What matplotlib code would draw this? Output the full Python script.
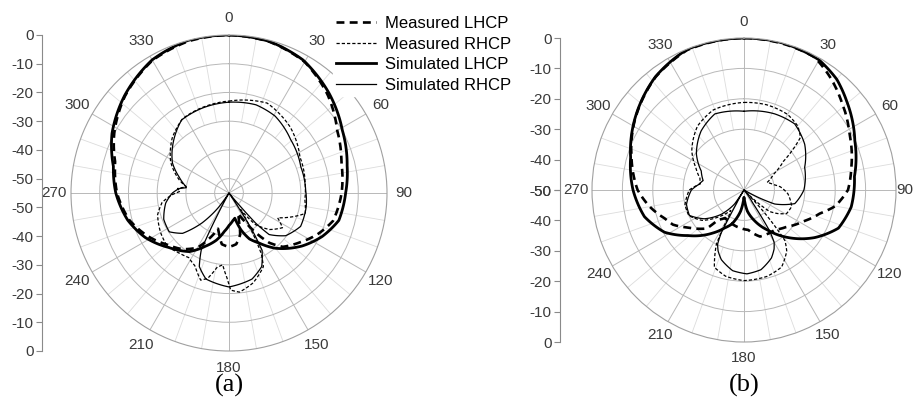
import numpy as np
import matplotlib.pyplot as plt

plt.rcParams['font.family'] = ['Liberation Sans', 'DejaVu Sans']

# ---- panel (a): angle (deg), gain (dB) ----
a_meas_lhcp_ang = [0, 15, 30, 45, 60, 75, 90, 105, 115, 125, 135, 141, 150, 156, 160, 165, 172, 180,
                   188, 193, 197, 203, 210, 220, 230, 242, 255, 270, 285, 298, 313, 330, 345, 360]
a_meas_lhcp_db = [0, -0.5, -2.3, -6.5, -11.5, -14.5, -15.8, -17.5, -21, -25, -28.5, -32.7, -42.8, -47.3,
                  -45, -40, -37, -36.2, -37, -40, -42, -38, -33, -29.5, -27, -23, -19, -16, -14, -9.8,
                  -5.5, -1.7, -0.3, 0]

a_meas_rhcp_ang = [0, 23, 43, 63, 83, 95, 105, 110, 117, 123, 132, 140, 145, 149, 152, 155, 165, 174,
                   179, 181, 185, 189, 194, 198, 205, 212, 220, 229, 240, 253, 262, 268, 272, 275, 278,
                   285, 298, 314, 328, 343, 360]
a_meas_rhcp_db = [-23, -21, -23.7, -27.3, -28.3, -28.5, -27.5, -31, -36, -32.8, -36, -40.6, -48, -40,
                  -31, -26.7, -22.6, -20.3, -21.2, -25, -29.9, -28.9, -24.4, -23.1, -27, -28.5, -27.8,
                  -26.6, -27.5, -29, -31.5, -35, -38, -37, -40, -37, -32, -27.5, -24.5, -23.8, -23]

a_sim_lhcp_ang = [0, 15, 29, 45, 61, 77, 90, 104, 115, 126, 140, 149, 156, 162, 167, 172, 180, 187,
                  195, 204, 214, 228, 242, 255, 270, 283, 297, 313, 330, 345, 360]
a_sim_lhcp_db = [0, -0.4, -2.0, -5.8, -9.9, -12.8, -14.4, -15.6, -19.2, -23.6, -29.9, -34.7, -37.5,
                 -41.5, -46, -45.3, -43.7, -41.5, -38, -34.7, -30.4, -26.7, -22, -18.5, -15.6, -13.7,
                 -9.3, -5.3, -1.5, 0, 0]

a_sim_rhcp_ang = [0, 17, 31, 49, 70, 88, 100, 115, 127, 136, 138.5, 139.5, 141, 146, 148, 150, 156,
                  165, 180, 195, 202, 206, 207.5, 209, 214, 216, 222, 229, 237, 248, 261, 270, 275,
                  277, 279, 288, 298, 314, 327, 343, 360]
a_sim_rhcp_db = [-23.4, -22.9, -23.8, -26.6, -28.4, -28.3, -27.7, -27.5, -30.3, -34.9, -41, -48, -55,
                 -55, -40, -32, -27, -24, -22.3, -24, -27.4, -33, -45, -55, -55, -49, -41, -33.6,
                 -30.2, -30.5, -32.7, -35.3, -37.5, -40, -39.7, -36.7, -32.7, -28.3, -24.7, -24,
                 -23.4]

# ---- panel (b) ----
b_meas_lhcp_ang = [0, 15, 28, 38, 47.5, 62, 78, 90, 100, 107, 118, 131, 142, 161, 174, 191, 205,
                   214, 221, 224, 235, 244, 250, 260, 270, 286, 302, 322, 338, 360]
b_meas_lhcp_db = [0, -0.2, -0.5, -3.5, -6.6, -10.7, -13.9, -15.8, -19.5, -23.8, -28, -31.5, -33.4,
                  -33.8, -36.8, -37.7, -38.5, -38.9, -37, -32.4, -28.3, -24, -22.4, -18.5, -15,
                  -11.5, -7.5, -2.8, -0.3, 0]

b_meas_rhcp_ang = [0, 15, 30, 40, 47, 54, 62, 72, 80, 85, 95, 109, 119, 125, 130, 133, 136, 138,
                   141, 145, 154, 165, 180, 192, 201, 207, 210, 213, 223, 234, 245, 256, 270, 278,
                   285, 295, 307, 324, 339, 360]
b_meas_rhcp_db = [-21.2, -21, -21.3, -22.5, -24.6, -34, -39, -42, -40, -38, -35.5, -33.4, -34, -36.5,
                  -39, -44, -50, -40, -28.6, -25.5, -21.8, -20.6, -20.2, -21, -22.8, -30, -40, -42,
                  -38, -33, -30, -30, -32, -35.5, -35, -32.5, -28.5, -24, -21.8, -21.2]

b_sim_lhcp_ang = [0, 15, 30, 40, 49, 66, 83, 99, 112, 124, 137, 149, 161, 171, 176, 180, 184, 189,
                  200, 207, 216, 231, 242, 255, 270, 286, 302, 322, 338, 360]
b_sim_lhcp_db = [0, 0, -0.6, -2.5, -5.3, -10.1, -13.4, -14.3, -16.5, -22, -28.6, -34.5, -39.3, -43,
                 -46, -47.6, -46, -43, -38, -36, -32.5, -26.2, -20.4, -16.1, -13.5, -11.2, -7.4, -2.7,
                 -0.1, 0]

b_sim_rhcp_ang = [0, 22, 37.5, 53, 69.5, 90, 105, 114.5, 117.5, 120, 140, 146, 148, 150, 153, 158,
                  168, 178, 188, 198, 203, 206, 208, 209, 212, 214, 223, 234, 245, 256, 270, 277,
                  283, 294, 307, 324, 339, 360]
b_sim_rhcp_db = [-24.1, -23, -22.6, -25, -28.7, -30.3, -32.7, -38.9, -44.8, -50, -50, -45, -34,
                 -30.2, -28.2, -25.9, -23.2, -22.4, -23.2, -25.9, -28.2, -30.2, -34, -45, -50, -44.5,
                 -39.1, -33.9, -30.2, -30.5, -32.7, -35, -36.2, -34.6, -30.4, -26, -23.2, -24.1]

legend_labels = ['Measured LHCP', 'Measured RHCP', 'Simulated LHCP', 'Simulated RHCP']
angle_labels = [str(a) for a in range(0, 360, 30)]
ring_db = [-50, -40, -30, -20, -10, 0]

W, H = 914, 407
fig = plt.figure(figsize=(W / 100, H / 100), dpi=100)

styles = [dict(color='black', lw=1.9, dashes=(3, 2)),
          dict(color='black', lw=0.9, dashes=(2.6, 1.6)),
          dict(color='black', lw=2.0),
          dict(color='black', lw=0.9)]


def polar_panel(cx, cy, rad, rmin, series, lab_fac):
    rect = [(cx - rad) / W, (H - cy - rad) / H, 2 * rad / W, 2 * rad / H]
    ax = fig.add_axes(rect, projection='polar')
    ax.set_theta_zero_location('N')
    ax.set_theta_direction(-1)
    ax.set_rlim(rmin, 0)
    ax.set_thetagrids(range(0, 360, 30), labels=[])
    ax.set_rgrids([r for r in ring_db if r < 0], labels=[])
    ax.grid(color='#b8b8b8', lw=0.7)
    ax.spines['polar'].set_color('#a0a0a0')
    ax.spines['polar'].set_linewidth(0.8)
    ax.tick_params(length=0)
    for t in range(0, 360, 10):
        if t % 30:
            ax.plot([np.radians(t)] * 2, [-30, 0], color='#dcdcdc', lw=0.6, zorder=0.8)
    lines = []
    for (ang, db), st in zip(series, styles):
        ln, = ax.plot(np.radians(ang), np.clip(db, rmin, 0), **st)
        # let the polar transform draw each segment as a curve in (theta, r)
        ln.get_path()._interpolation_steps = 30
        lines.append(ln)
    for t, lab in zip(range(0, 360, 30), angle_labels):
        th = np.radians(t)
        f = lab_fac.get(t, lab_fac['all'])
        ax.text(0.5 + 0.5 * f * np.sin(th), 0.5 + 0.5 * f * np.cos(th), lab,
                transform=ax.transAxes, ha='center', va='center', fontsize=11,
                color='#3a3a3a')
    return ax, lines


def side_axis(x, cy, rad, rmin):
    bar = fig.add_axes([x / W, (H - cy - rad) / H, 0.0005, 2 * rad / H])
    bar.set_ylim(rmin, -rmin)
    pos, labs = [], []
    for r in ring_db:
        u = r - rmin
        pos += [u, -u]
        labs += [str(r), str(r)]
    bar.set_yticks(pos)
    bar.set_yticklabels(labs)
    bar.set_xticks([])
    for s in ['top', 'right', 'bottom']:
        bar.spines[s].set_visible(False)
    bar.spines['left'].set_color('#8a8a8a')
    bar.spines['left'].set_linewidth(0.8)
    bar.tick_params(axis='y', direction='out', length=4, width=0.8, color='#8a8a8a',
                    labelsize=11, labelcolor='#3a3a3a', pad=2)
    bar.patch.set_visible(False)


series_a = [(a_meas_lhcp_ang, a_meas_lhcp_db), (a_meas_rhcp_ang, a_meas_rhcp_db),
            (a_sim_lhcp_ang, a_sim_lhcp_db), (a_sim_rhcp_ang, a_sim_rhcp_db)]
series_b = [(b_meas_lhcp_ang, b_meas_lhcp_db), (b_meas_rhcp_ang, b_meas_rhcp_db),
            (b_sim_lhcp_ang, b_sim_lhcp_db), (b_sim_rhcp_ang, b_sim_rhcp_db)]

ax_a, lines_a = polar_panel(229, 193, 158, -55, series_a, {'all': 1.108})
ax_b, lines_b = polar_panel(744, 190, 152, -50, series_b, {'all': 1.105, 90: 1.055})
side_axis(42, 193, 158, -55)
side_axis(560, 190, 152, -50)

fig.legend(lines_a, legend_labels, loc='upper left', bbox_to_anchor=(333 / W, 1 - 13 / H),
           frameon=True, facecolor='white', edgecolor='white', framealpha=1, fontsize=12,
           handlelength=2.4, handletextpad=0.5, labelspacing=0.33, borderpad=0.2,
           borderaxespad=0)

fig.text(229 / W, 1 - 385 / H, '(a)', ha='center', va='center', fontsize=19,
         family='Liberation Serif')
fig.text(744 / W, 1 - 385 / H, '(b)', ha='center', va='center', fontsize=19,
         family='Liberation Serif')

fig.savefig('out.png', dpi=100, facecolor='white')
